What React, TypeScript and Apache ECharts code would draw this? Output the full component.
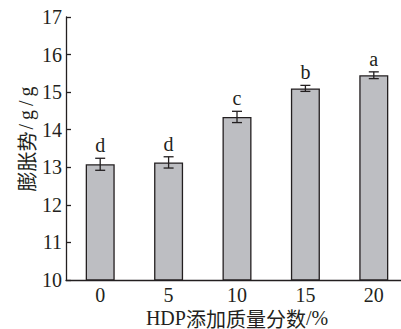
import React, { useEffect, useRef } from "react";
import * as echarts from "echarts";

const categories = ["0", "5", "10", "15", "20"];
const values = [13.08, 13.13, 14.34, 15.1, 15.45];
const errors = [0.16, 0.15, 0.15, 0.08, 0.09];
const letters = ["d", "d", "c", "b", "a"];
const yTicks = { min: 10, max: 17, interval: 1 };

const SERIF = "'Liberation Serif', serif";
const CJK = "'Noto Sans CJK SC', sans-serif";
const INK = "#231f20";

export default function App() {
  const ref = useRef<HTMLDivElement>(null);
  useEffect(() => {
    document.body.style.margin = "0";
    const chart = echarts.init(ref.current!, null, { renderer: "svg" });
    const latin = { fontFamily: SERIF, fontSize: 20, fill: INK, lineHeight: 18 };
    const latinSp = { fontFamily: SERIF, fontSize: 20, fill: INK, padding: [0, 2, 0, 2] };
    const hanY = { fontFamily: CJK, fontSize: 20, fill: INK };
    const han = { fontFamily: CJK, fontSize: 20, fill: INK, lineHeight: 18 };
    chart.setOption({
      animation: false,
      backgroundColor: "#ffffff",
      grid: { left: 66, top: 17, width: 342, height: 263, outerBoundsMode: "none", containLabel: false },
      graphic: [
        {
          type: "text",
          x: 26,
          y: 138,
          rotation: Math.PI / 2,
          style: {
            text: "{h|膨胀势}{s|/}{s|g}{s|/}{s|g}",
            align: "center",
            verticalAlign: "middle",
            rich: { h: hanY, s: latinSp },
          },
        },
        {
          type: "text",
          x: 237,
          y: 318,
          style: {
            text: "{l|HDP}{h|添加质量分数}{l|/%}",
            align: "center",
            verticalAlign: "middle",
            rich: { l: latin, h: han },
          },
        },
      ],
      xAxis: {
        type: "category",
        data: categories,
        axisLine: { lineStyle: { color: INK, width: 1.3 } },
        axisTick: { inside: true, length: 5, lineStyle: { color: INK, width: 1.3 } },
        axisLabel: { fontFamily: SERIF, fontSize: 20, lineHeight: 18, color: INK, margin: 6 },
        splitLine: { show: false },
      },
      yAxis: {
        type: "value",
        min: yTicks.min,
        max: yTicks.max,
        interval: yTicks.interval,
        axisLine: { show: true, lineStyle: { color: INK, width: 1.3 } },
        axisTick: { show: true, inside: true, length: 5, lineStyle: { color: INK, width: 1.3 } },
        axisLabel: { fontFamily: SERIF, fontSize: 20, color: INK, margin: 4 },
        splitLine: { show: false },
      },
      series: [
        {
          type: "bar",
          data: values,
          barWidth: 29,
          itemStyle: { color: "#bdbec2", borderColor: INK, borderWidth: 1.3 },
        },
        {
          type: "custom",
          data: values.map((v, i) => [i, v, errors[i]]),
          z: 5,
          renderItem: (params: any, api: any) => {
            const i = api.value(0);
            const v = api.value(1);
            const e = api.value(2);
            const top = api.coord([i, v + e]);
            const bot = api.coord([i, v - e]);
            const cap = 5;
            const st = { stroke: INK, lineWidth: 1.3 };
            return {
              type: "group",
              children: [
                { type: "line", shape: { x1: top[0], y1: top[1], x2: bot[0], y2: bot[1] }, style: st },
                { type: "line", shape: { x1: top[0] - cap, y1: top[1], x2: top[0] + cap, y2: top[1] }, style: st },
                { type: "line", shape: { x1: bot[0] - cap, y1: bot[1], x2: bot[0] + cap, y2: bot[1] }, style: st },
                {
                  type: "text",
                  x: top[0],
                  y: top[1] - 3,
                  style: {
                    text: letters[params.dataIndex],
                    font: `20px ${SERIF}`,
                    fill: INK,
                    align: "center",
                    verticalAlign: "bottom",
                  },
                },
              ],
            };
          },
        },
      ],
    });
    return () => chart.dispose();
  }, []);
  return <div ref={ref} style={{ position: "absolute", left: 0, top: 0, width: 401, height: 329 }} />;
}
